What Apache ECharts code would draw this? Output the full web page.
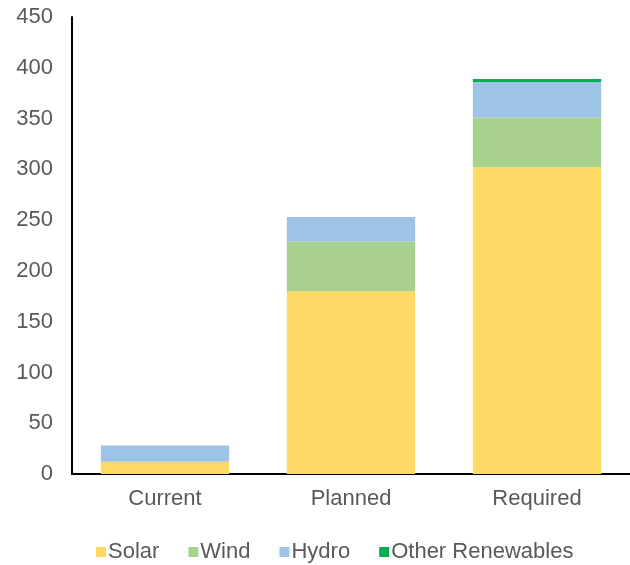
<!DOCTYPE html>
<html>
<head>
<meta charset="utf-8">
<script src="https://cdn.jsdelivr.net/npm/echarts@6/dist/echarts.min.js"></script>
<style>
	html, body { margin: 0; padding: 0; background: #fff; }
	#main { width: 630px; height: 565px; }
</style>
</head>
<body>
<div id="main"></div>
<script>
var categories = ["Current", "Planned", "Required"];
var solar = [12, 180, 302];
var wind = [0, 49, 49];
var hydro = [16, 24, 35];
var other = [0, 0, 3];

var seriesNames = ["Solar", "Wind", "Hydro", "Other Renewables"];
var seriesData = [solar, wind, hydro, other];
var seriesColors = ["#FFD966", "#A9D18E", "#9DC3E6", "#00B050"];

var chart = echarts.init(document.getElementById("main"));
var font = "Liberation Sans, Arial, sans-serif";

chart.setOption({
	animation: false,
	grid: { left: 72, top: 17, width: 562, bottom: 91, containLabel: false },
	legend: {
		top: 541,
		left: 96,
		padding: 0,
		itemWidth: 10,
		itemHeight: 10,
		itemGap: 29,
		icon: "rect",
		textStyle: { fontFamily: font, fontSize: 22, color: "#595959", padding: [0, 0, 0, -3] },
		data: seriesNames
	},
	xAxis: {
		type: "category",
		data: categories,
		axisLine: { lineStyle: { color: "#000", width: 2 } },
		axisTick: { show: false },
		axisLabel: { fontFamily: font, fontSize: 22, color: "#595959", margin: 14 }
	},
	yAxis: {
		type: "value",
		min: 0,
		max: 450,
		interval: 50,
		axisLine: { show: true, lineStyle: { color: "#000", width: 2 } },
		axisTick: { show: false },
		splitLine: { show: false },
		axisLabel: { fontFamily: font, fontSize: 22, color: "#595959", margin: 19 }
	},
	series: seriesNames.map(function (name, i) {
		return {
			name: name,
			type: "bar",
			stack: "total",
			barWidth: "69%",
			data: seriesData[i],
			itemStyle: { color: seriesColors[i] }
		};
	})
});
</script>
</body>
</html>
